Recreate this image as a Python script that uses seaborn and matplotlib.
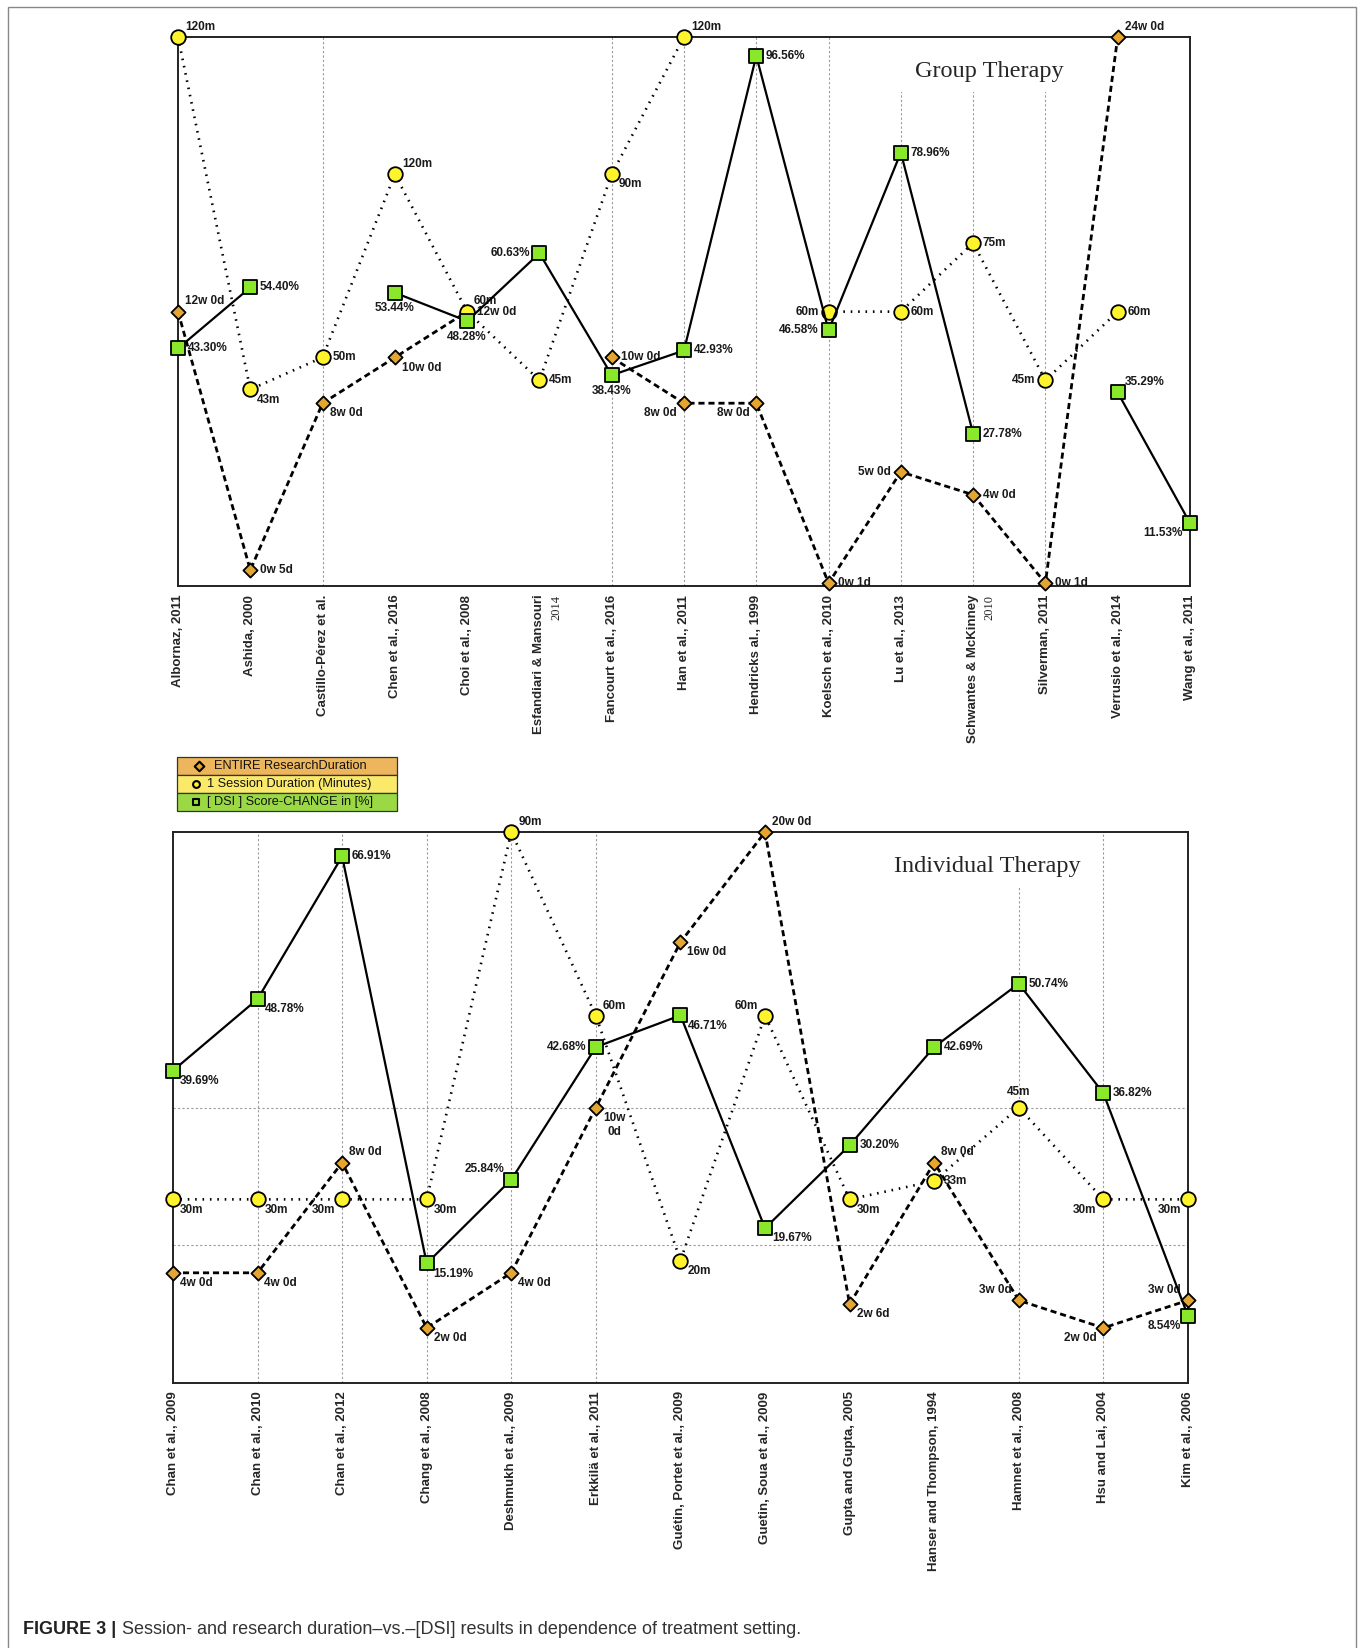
import numpy as np
import pandas as pd
import matplotlib.pyplot as plt
from matplotlib.patches import Rectangle
import seaborn as sns

sns.set_style("white")
plt.rcParams['font.family'] = ['Liberation Sans', 'DejaVu Sans']

nan = np.nan

# Group therapy studies
group_studies = ["Albornaz, 2011", "Ashida, 2000", "Castillo-Pérez et al.", "Chen et al., 2016",
                 "Choi et al., 2008", "Esfandiari & Mansouri", "Fancourt et al., 2016", "Han et al., 2011",
                 "Hendricks al., 1999", "Koelsch et al., 2010", "Lu et al., 2013", "Schwantes & McKinney",
                 "Silverman, 2011", "Verrusio et al., 2014", "Wang et al., 2011"]
group_years_extra = {5: "2014", 11: "2010"}
group_weeks = [12, 0.71, 8, 10, 12, nan, 10, 8, 8, 0.14, 5, 4, 0.14, 24, nan]
group_weeks_lbl = ["12w 0d", "0w 5d", "8w 0d", "10w 0d", "12w 0d", "", "10w 0d", "8w 0d", "8w 0d",
                   "0w 1d", "5w 0d", "4w 0d", "0w 1d", "24w 0d", ""]
# Chen 2016 is labelled 120m but sits at the 90m level in the original
group_minutes = [120, 43, 50, 90, 60, 45, 90, 120, nan, 60, 60, 75, 45, 60, nan]
group_minutes_lbl = ["120m", "43m", "50m", "120m", "60m", "45m", "90m", "120m", "",
                     "60m", "60m", "75m", "45m", "60m", ""]
group_dsi = [43.30, 54.40, nan, 53.44, 48.28, 60.63, 38.43, 42.93, 96.56, 46.58, 78.96, 27.78, nan, 35.29, 11.53]

# Individual therapy studies
indiv_studies = ["Chan et al., 2009", "Chan et al., 2010", "Chan et al., 2012", "Chang et al., 2008",
                 "Deshmukh et al., 2009", "Erkkilä et al., 2011", "Guétin, Portet et al., 2009",
                 "Guetin, Soua et al., 2009", "Gupta and Gupta, 2005", "Hanser and Thompson, 1994",
                 "Hamnet et al., 2008", "Hsu and Lai, 2004", "Kim et al., 2006"]
indiv_weeks = [4, 4, 8, 2, 4, 10, 16, 20, 2.86, 8, 3, 2, 3]
indiv_weeks_lbl = ["4w 0d", "4w 0d", "8w 0d", "2w 0d", "4w 0d", "10w\n0d", "16w 0d", "20w 0d",
                   "2w 6d", "8w 0d", "3w 0d", "2w 0d", "3w 0d"]
indiv_minutes = [30, 30, 30, 30, 90, 60, 20, 60, 30, 33, 45, 30, 30]
indiv_minutes_lbl = [f"{m}m" for m in indiv_minutes]
indiv_dsi = [39.69, 48.78, 66.91, 15.19, 25.84, 42.68, 46.71, 19.67, 30.20, 42.69, 50.74, 36.82, 8.54]

# label placement codes per point
group_wk_pos = ['ur', 'r', 'lr', 'lr', 'r', '', 'r', 'll', 'll', 'r', 'l', 'r', 'r', 'ur', '']
group_min_pos = ['ur', 'lr', 'r', 'ur', 'ur', 'r', 'lr', 'ur', '', 'l', 'r', 'r', 'l', 'r', '']
group_dsi_pos = ['r', 'r', '', 'b', 'b', 'l', 'b', 'r', 'r', 'l', 'r', 'r', '', 'ur', 'll']
indiv_wk_pos = ['lr', 'lr', 'ur', 'lr', 'lr', 'lr', 'lr', 'ur', 'lr', 'ur', 'ul', 'll', 'ul']
indiv_min_pos = ['lr', 'lr', 'll', 'lr', 'ur', 'ur', 'lr', 'ul', 'lr', 'r', 'a', 'll', 'll']
indiv_dsi_pos = ['lr', 'lr', 'r', 'lr', 'ul', 'l', 'lr', 'lr', 'r', 'r', 'r', 'r', 'll']

GREEN = '#8AE82A'
YELLOW = '#FFF42C'
ORANGE = '#E4A630'

OFFSETS = {
    'r': (7, 0, 'left', 'center'),
    'l': (-7, 0, 'right', 'center'),
    'ur': (5, 3, 'left', 'bottom'),
    'lr': (5, -3, 'left', 'top'),
    'ul': (-5, 3, 'right', 'bottom'),
    'll': (-5, -3, 'right', 'top'),
    'b': (0, -7, 'center', 'top'),
    'a': (0, 7, 'center', 'bottom'),
}


def draw_series(ax, values, labels, codes, marker, color, size, ls, lw):
    df = pd.DataFrame({'x': np.arange(len(values)), 'v': values, 'lbl': labels, 'code': codes})
    df['seg'] = df['v'].isna().cumsum()
    df = df.dropna(subset=['v'])
    sns.lineplot(data=df, x='x', y='v', units='seg', estimator=None, color='black',
                 linewidth=lw, linestyle=ls, ax=ax, clip_on=False, zorder=2)
    sns.scatterplot(data=df, x='x', y='v', marker=marker, s=size, color=color, edgecolor='black',
                    linewidth=1.3, ax=ax, clip_on=False, zorder=3)
    for _, r in df.iterrows():
        dx, dy, ha, va = OFFSETS[r['code']]
        ax.annotate(r['lbl'], (r['x'], r['v']), xytext=(dx, dy), textcoords='offset points',
                    ha=ha, va=va, fontsize=8.5, fontweight='bold', annotation_clip=False, zorder=4,
                    multialignment='center', color='#1a1a1a')


def panel(rect, studies, weeks, wk_lbl, wk_pos, minutes, min_lbl, min_pos, dsi, dsi_pos,
          ylims, grid_idx, title, cover, hlines=()):
    n = len(studies)
    ax = fig.add_axes(rect)
    ax_min = ax.twinx()
    ax_dsi = ax.twinx()

    for i in grid_idx:
        ax.axvline(i, color='#9a9a9a', lw=0.8, ls=(0, (2, 2)), zorder=0.5)
    for h in hlines:
        ax.axhline(h, color='#9a9a9a', lw=0.8, ls=(0, (2, 2)), zorder=0.5)
    ax.add_patch(Rectangle((cover[0], cover[1]), cover[2], cover[3], transform=ax.transAxes,
                           facecolor='white', edgecolor='none', zorder=0.8))
    ax.text(0.802, 0.937, title, transform=ax.transAxes, ha='center', va='center',
            fontsize=17.5, family=['Liberation Serif', 'DejaVu Serif'], zorder=0.9)

    draw_series(ax, weeks, wk_lbl, wk_pos, 'D', ORANGE, 52, (0, (2.2, 1.4)), 2.0)
    draw_series(ax_min, minutes, min_lbl, min_pos, 'o', YELLOW, 110, (0, (0.6, 2.2)), 1.9)
    draw_series(ax_dsi, dsi, [f"{v:.2f}%" for v in dsi], dsi_pos, 's', GREEN, 115, '-', 1.6)

    ax.set_ylim(0, ylims[0])
    ax_min.set_ylim(0, ylims[1])
    ax_dsi.set_ylim(0, ylims[2])
    ax.set_xlim(0, n - 1)
    for a in (ax_min, ax_dsi):
        a.yaxis.set_visible(False)
        for sp in a.spines.values():
            sp.set_visible(False)
        a.set_ylabel('')
    ax.set_yticks([])
    ax.set_ylabel('')
    ax.set_xlabel('')
    ax.set_xticks(range(n))
    ax.set_xticklabels(studies, rotation=90, fontsize=9.5, fontweight='bold', va='top', ha='center')
    ax.tick_params(axis='x', length=0, pad=6)
    for sp in ax.spines.values():
        sp.set_color('#222222')
        sp.set_linewidth(1.4)
    return ax


fig = plt.figure(figsize=(13.62, 16.48), dpi=100)

ax_top = panel([0.1307, 0.6442, 0.7430, 0.3334], group_studies,
               group_weeks, group_weeks_lbl, group_wk_pos,
               group_minutes, group_minutes_lbl, group_min_pos,
               group_dsi, group_dsi_pos,
               (24, 120, 100), [2, 6, 7, 8, 9, 10, 11, 12], "Group Therapy",
               (0.694, 0.90, 0.19, 0.11))
for i, yr in group_years_extra.items():
    ax_top.annotate(yr, xy=(i, 0), xycoords=('data', 'axes fraction'), xytext=(12, -6),
                    textcoords='offset points', rotation=90, ha='center', va='top', fontsize=9,
                    family=['Liberation Serif', 'DejaVu Serif'], annotation_clip=False)

ax_bot = panel([0.1270, 0.1608, 0.7452, 0.3343], indiv_studies,
               indiv_weeks, indiv_weeks_lbl, indiv_wk_pos,
               indiv_minutes, indiv_minutes_lbl, indiv_min_pos,
               indiv_dsi, indiv_dsi_pos,
               (20, 90, 70), [1, 2, 3, 4, 5, 10, 11], "Individual Therapy",
               (0.697, 0.90, 0.212, 0.11), hlines=(5, 10))

# legend box
ax_leg = fig.add_axes([0.1296, 0.5079, 0.1619, 0.0328])
ax_leg.set_xlim(0, 1)
ax_leg.set_ylim(0, 3)
ax_leg.axis('off')
leg_rows = [("ENTIRE ResearchDuration", '#EDB65C', 'D', ORANGE, 0.10, 0.17),
            ("1 Session Duration (Minutes)", '#FBEA6A', 'o', YELLOW, 0.09, 0.14),
            ("[ DSI ] Score-CHANGE in [%]", '#9AD944', 's', GREEN, 0.09, 0.14)]
for k, (txt, bg, mk, mc, mx, tx) in enumerate(leg_rows):
    y0 = 2 - k
    ax_leg.add_patch(Rectangle((0, y0), 1, 1, facecolor=bg, edgecolor='#333333', lw=0.9, clip_on=False))
    ax_leg.scatter([mx], [y0 + 0.5], marker=mk, s=24, color=mc, edgecolor='black', linewidth=1.5, zorder=3)
    ax_leg.text(tx, y0 + 0.5, txt, ha='left', va='center', fontsize=9.2, color='#111111')

# caption
cap_font = ['Liberation Sans Narrow', 'Liberation Sans', 'DejaVu Sans']
t1 = fig.text(23 / 1362, 1 - 1629 / 1648, "FIGURE 3 |", fontsize=13, fontweight='bold',
              family=cap_font, va='center', color='#222222')
ax_bot.annotate("Session- and research duration–vs.–[DSI] results in dependence of treatment setting.",
                xy=(1, 0.5), xycoords=t1, xytext=(4, 0), textcoords='offset points',
                ha='left', va='center', fontsize=13, family=cap_font, color='#333333',
                annotation_clip=False)

# outer frame
fig.patches.append(Rectangle((8 / 1362, -0.01), 1348 / 1362, 1.01 - 7 / 1648, transform=fig.transFigure,
                             fill=False, edgecolor='#888888', lw=1.0))

fig.savefig('out.png', dpi=100)
